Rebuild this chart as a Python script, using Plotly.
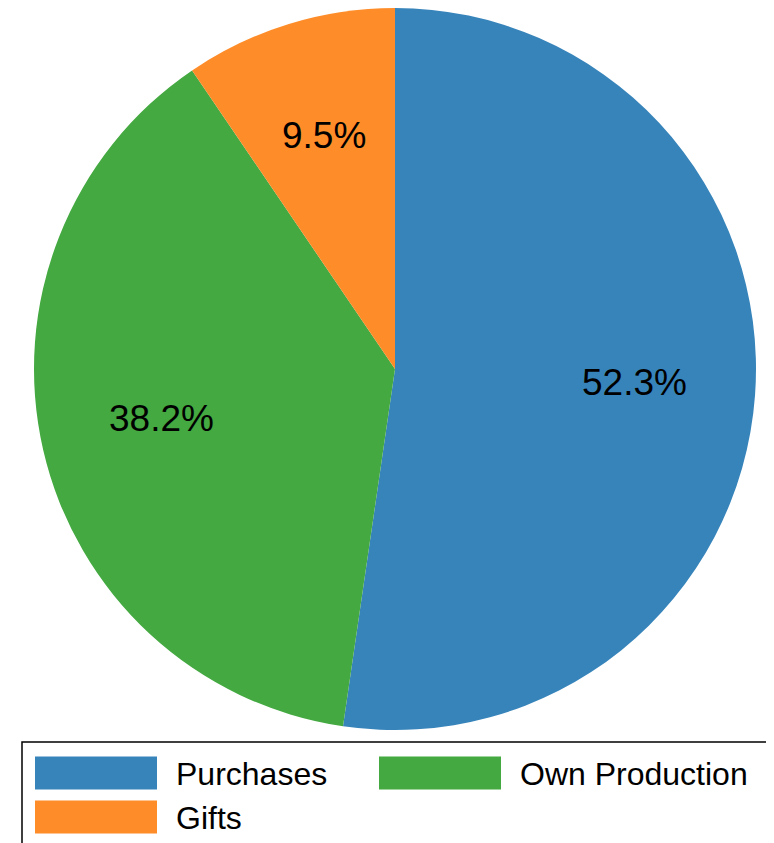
import numpy as np
import plotly.graph_objects as go

labels = ["Purchases", "Own Production", "Gifts"]
values = [52.3, 38.2, 9.5]
colors = ["#3784bb", "#43a940", "#fe8c28"]

# page body has an 8px margin; work in reference-pixel coords and shift
OFF = 8
W, H = 774 - OFF, 843 - OFF

def px(x):
    return (x - OFF) / W

def py(y):
    return min(1.0, 1 - (y - OFF) / H)

CX, CY, R = 395, 369, 361

fig = go.Figure()
fig.add_trace(go.Pie(
    labels=labels, values=values, sort=False, direction="clockwise", rotation=0,
    marker=dict(colors=colors, line=dict(width=0)),
    textinfo="none",
    domain=dict(x=[px(CX - R), px(CX + R)], y=[py(CY + R), py(CY - R)]),
    showlegend=False, hoverinfo="label+percent",
))

shapes = []
annotations = []

# percentage labels placed along each slice's mid-angle
vals = np.array(values, dtype=float)
tot = vals.sum()
mids = (np.cumsum(vals) - vals / 2) / tot * 2 * np.pi
PCTD = 0.665
for v, a in zip(vals, mids):
    annotations.append(dict(
        xref="paper", yref="paper",
        x=px(CX + PCTD * R * np.sin(a)), y=py(CY - PCTD * R * np.cos(a) - 4),
        xanchor="center", yanchor="middle", showarrow=False,
        text=f"{v / tot * 100:.1f}%",
        font=dict(family="Liberation Sans, Arial", size=37, color="black")))

# legend frame
shapes.append(dict(type="rect", xref="paper", yref="paper",
                   x0=px(22), x1=px(769), y0=py(852), y1=py(742),
                   line=dict(color="black", width=1.5), fillcolor="rgba(0,0,0,0)"))
# legend items: (swatch left, row center)
slots = [(35, 773), (379, 773), (35, 817)]
for (sx, cy), lab, col in zip(slots, labels, colors):
    shapes.append(dict(type="rect", xref="paper", yref="paper",
                       x0=px(sx), x1=px(sx + 122), y0=py(cy + 16.5), y1=py(cy - 16.5),
                       line=dict(width=0), fillcolor=col))
    annotations.append(dict(xref="paper", yref="paper", x=px(sx + 139), y=py(cy + 1),
                            xanchor="left", yanchor="middle", showarrow=False, text=lab,
                            font=dict(family="Liberation Sans, Arial", size=32, color="black")))

fig.update_layout(width=W, height=H, margin=dict(l=0, r=0, t=0, b=0),
                  paper_bgcolor="white", plot_bgcolor="white",
                  shapes=shapes, annotations=annotations)
fig.write_html("out.html")
